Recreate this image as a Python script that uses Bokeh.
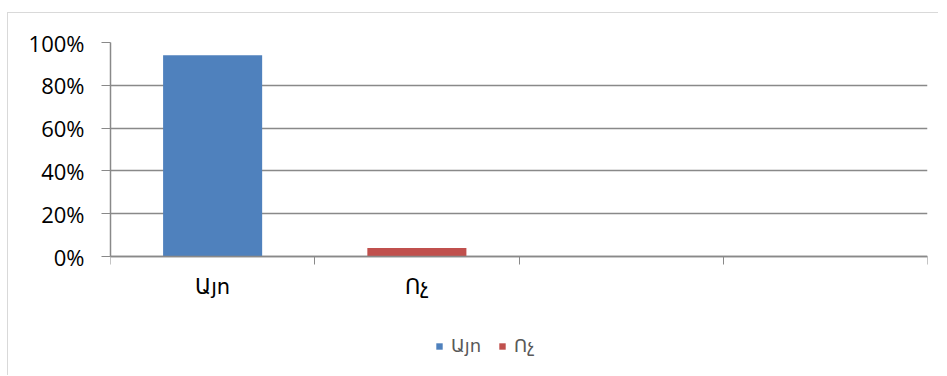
from bokeh.plotting import figure
from bokeh.models import FixedTicker, Range1d, Legend, LegendItem, ColumnDataSource
from bokeh.embed import file_html
from bokeh.resources import INLINE

# ---- data ----
categories = ["Այո", "Ոչ", "", ""]
series_names = ["Այո", "Ոչ"]
yes_values = [0.94, 0.0, 0.0, 0.0]
no_values = [0.0, 0.04, 0.0, 0.0]
y_ticks = [0, 0.2, 0.4, 0.6, 0.8, 1.0]
y_tick_labels = ["0%", "20%", "40%", "60%", "80%", "100%"]
colors = ["#4F81BD", "#C0504D"]

centers = [i + 0.5 for i in range(len(categories))]
bounds = list(range(len(categories) + 1))

GRID = "#898989"

# layout geometry (pixels): plotting band of 214 px for 0..100 %,
# with room below it (inside the frame) for category labels and legend
FRAME_H = 334
BAND_H = 214
y_start = 1 - FRAME_H / BAND_H

p = figure(width=931, height=363,
           x_range=Range1d(0, len(categories)), y_range=Range1d(y_start, 1),
           output_backend="svg", toolbar_location=None,
           min_border_left=102, min_border_top=29, min_border_right=12,
           min_border_bottom=0)
p.styles = {"margin-top": "12px", "margin-left": "7px",
            "border-left": "1px solid #d9d9d9",
            "border-top": "1px solid #d9d9d9"}
p.outline_line_color = None
p.background_fill_color = "white"
p.border_fill_color = "white"

src_yes = ColumnDataSource(dict(x=centers, top=yes_values))
src_no = ColumnDataSource(dict(x=centers, top=no_values))
r_yes = p.vbar(x="x", top="top", bottom=0, width=0.485, source=src_yes,
               fill_color=colors[0], line_color=None)
r_no = p.vbar(x="x", top="top", bottom=0, width=0.485, source=src_no,
              fill_color=colors[1], line_color=None)

# x axis drawn at 0 %: labels at centers, tick marks at category boundaries
xa = p.xaxis[0]
xa.fixed_location = 0
xa.ticker = FixedTicker(ticks=centers, minor_ticks=bounds)
xa.major_label_overrides = {c: lab for c, lab in zip(centers, categories)}
xa.major_tick_out = 0
xa.major_tick_in = 0
xa.minor_tick_out = 8
xa.minor_tick_in = 0
xa.minor_tick_line_color = GRID
xa.axis_line_color = GRID
xa.axis_line_width = 1.5
xa.major_label_standoff = 10
xa.major_label_text_font = "DejaVu Sans"
xa.major_label_text_font_size = "21px"
xa.major_label_text_color = "#000000"

ya = p.yaxis[0]
ya.bounds = (0, 1)
ya.ticker = FixedTicker(ticks=y_ticks)
ya.major_label_overrides = {t: lab for t, lab in zip(y_ticks, y_tick_labels)}
ya.major_tick_out = 9
ya.major_tick_in = 0
ya.minor_tick_line_color = None
ya.major_tick_line_color = GRID
ya.axis_line_color = GRID
ya.axis_line_width = 1.5
ya.major_label_standoff = 17
ya.major_label_text_font = "Open Sans"
ya.major_label_text_font_size = "22px"
ya.major_label_text_color = "#000000"

p.xgrid.grid_line_color = None
p.ygrid.ticker = FixedTicker(ticks=y_ticks)
p.ygrid.grid_line_color = GRID
p.ygrid.grid_line_width = 1.5

legend = Legend(items=[LegendItem(label=series_names[0], renderers=[r_yes]),
                       LegendItem(label=series_names[1], renderers=[r_no])],
                orientation="horizontal", location=(325, 20),
                label_text_font="DejaVu Sans", label_text_font_size="18px",
                label_text_color="#595959", glyph_width=8, glyph_height=8,
                label_standoff=8, spacing=17, padding=0, margin=0,
                border_line_color=None, background_fill_alpha=0)
p.add_layout(legend, "center")

open("out.html", "w").write(file_html(p, INLINE))
